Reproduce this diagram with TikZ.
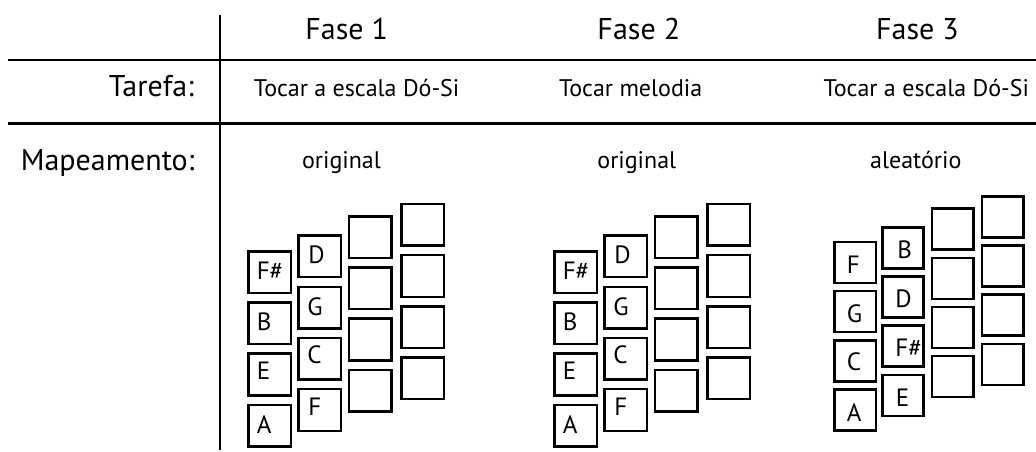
\documentclass[tikz,border=0pt]{standalone}
\usepackage{fontspec}
\setmainfont{PT Sans}
\begin{document}
\begin{tikzpicture}[x=1pt,y=-1pt,
  rule/.style={line width=2.5pt},
  bigtxt/.style={inner sep=0pt,font=\fontsize{30}{36}\selectfont},
  midtxt/.style={inner sep=0pt,font=\fontsize{24}{29}\selectfont},
  keybox/.style={draw,line width=2.5pt,inner sep=0pt,outer sep=0pt,minimum width=42.6pt,minimum height=41.6pt,anchor=north west},
  keyboxs/.style={keybox,minimum width=41.3pt,minimum height=41pt},
  keylbl/.style={inner sep=0pt,anchor=base west,font=\fontsize{25}{30}\selectfont}]
\useasboundingbox (0,0) rectangle (1036,451);
% table rules
\draw[rule] (8,60) -- (1036,60);
\draw[rule] (8,123.3) -- (1036,123.3);
\draw[rule] (220,15) -- (220,450);
% headers
\node[bigtxt,anchor=base] (f1) at (346.7,39.3) {Fase 1};
\node[bigtxt,anchor=base] (f2) at (638.8,39.3) {Fase 2};
\node[bigtxt,anchor=base] (f3) at (917.5,39.3) {Fase 3};
\node[bigtxt,anchor=base east] (tar) at (194,96.7) {Tarefa:};
\node[bigtxt,anchor=base east] (map) at (194.5,170) {Mapeamento:};
\node[midtxt,anchor=base] (t1) at (356.7,96.7) {Tocar a escala Dó-Si};
\node[midtxt,anchor=base] (t2) at (630.7,96.7) {Tocar melodia};
\node[midtxt,anchor=base] (t3) at (926.3,96.7) {Tocar a escala Dó-Si};
\node[midtxt,anchor=base] (m1) at (341.5,168.3) {original};
\node[midtxt,anchor=base] (m2) at (636.8,168.3) {original};
\node[midtxt,anchor=base] (m3) at (915.8,168.3) {aleatório};
% panels 1 and 2
\foreach \px/\pn in {247.3/1,553.3/2}{
  \foreach \c/\dx/\tp in {0/0/250,1/49.7/234.3,2/100.3/215,3/152.7/202.7}{
    \foreach \r in {0,1,2,3}{
      \node[keybox] (p\pn c\c r\r) at (\px+\dx+1.25,\tp+\r*51.2+1.25) {};
    }
  }
  \node[keylbl] at ([xshift=8pt,yshift=-7.5pt]p\pn c0r0.west) {F\#};
  \node[keylbl] at ([xshift=8pt,yshift=-7.5pt]p\pn c0r1.west) {B};
  \node[keylbl] at ([xshift=8pt,yshift=-5pt]p\pn c0r2.west) {E};
  \node[keylbl] at ([xshift=8pt,yshift=-8pt]p\pn c0r3.west) {A};
  \node[keylbl] at ([xshift=10pt,yshift=-7.5pt]p\pn c1r0.west) {D};
  \node[keylbl] at ([xshift=9pt,yshift=-7.5pt]p\pn c1r1.west) {G};
  \node[keylbl] at ([xshift=9pt,yshift=-5pt]p\pn c1r2.west) {C};
  \node[keylbl] at ([xshift=10pt,yshift=-5.5pt]p\pn c1r3.west) {F};
}
% panel 3
\foreach \c/\px/\tp in {0/833.3/240.7,1/881/226,2/930.7/207.3,3/980.7/195}{
  \foreach \r in {0,1,2,3}{
    \node[keyboxs] (p3c\c r\r) at (\px+1.25,\tp+\r*49.2+1.25) {};
  }
}
\node[keylbl] at ([xshift=12pt,yshift=-11pt]p3c0r0.west) {F};
\node[keylbl] at ([xshift=12pt,yshift=-11pt]p3c0r1.west) {G};
\node[keylbl] at ([xshift=12pt,yshift=-10pt]p3c0r2.west) {C};
\node[keylbl] at ([xshift=12pt,yshift=-11pt]p3c0r3.west) {A};
\node[keylbl] at ([xshift=15pt,yshift=-11pt]p3c1r0.west) {B};
\node[keylbl] at ([xshift=13pt,yshift=-11pt]p3c1r1.west) {D};
\node[keylbl] at ([xshift=13pt,yshift=-10pt]p3c1r2.west) {F\#};
\node[keylbl] at ([xshift=13.5pt,yshift=-11pt]p3c1r3.west) {E};
\end{tikzpicture}
\end{document}
